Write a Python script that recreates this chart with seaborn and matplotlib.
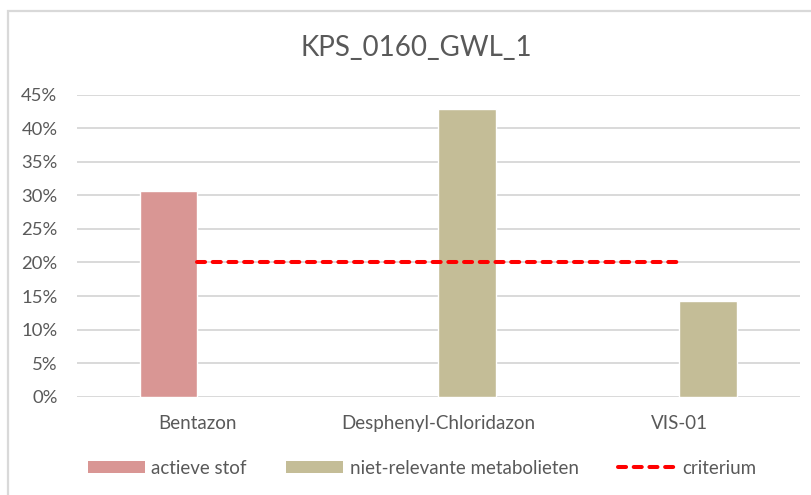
import matplotlib
matplotlib.use("Agg")
import matplotlib.pyplot as plt
from matplotlib.patches import Patch, Rectangle
from matplotlib.lines import Line2D
from matplotlib.ticker import PercentFormatter
import pandas as pd
import seaborn as sns

# Data
title = "KPS_0160_GWL_1"
categories = ["Bentazon", "Desphenyl-Chloridazon", "VIS-01"]
series_names = ["actieve stof", "niet-relevante metabolieten"]
actieve_stof = {"Bentazon": 0.306}
metabolieten = {"Desphenyl-Chloridazon": 0.429, "VIS-01": 0.143}
criterium_label = "criterium"
criterium = [0.20, 0.20, 0.20]
y_ticks = [0.00, 0.05, 0.10, 0.15, 0.20, 0.25, 0.30, 0.35, 0.40, 0.45]

rows = [(k, series_names[0], v) for k, v in actieve_stof.items()]
rows += [(k, series_names[1], v) for k, v in metabolieten.items()]
df = pd.DataFrame(rows, columns=["stof", "groep", "waarde"])

sns.set_theme(style="white")
plt.rcParams["font.family"] = ["Lato", "DejaVu Sans"]

text_color = "#595959"
grid_color = "#d9d9d9"
colors = {series_names[0]: "#d99694", series_names[1]: "#c4bd97"}
crit_color = "#ff0000"
label_size = 13.5

fig = plt.figure(figsize=(8.12, 4.95), dpi=100)
fig.patch.set_facecolor("white")
ax = fig.add_axes([77 / 812, (495 - 396.7) / 495, (800 - 77) / 812, (396.7 - 94.7) / 495])

sns.barplot(data=df, x="stof", y="waarde", hue="groep", order=categories,
            hue_order=series_names, palette=colors, width=0.477, dodge=True,
            saturation=1, legend=False, ax=ax, zorder=2)

ax.plot(range(len(categories)), criterium, color=crit_color, lw=2.9,
        dashes=(2.0, 1.9), dash_capstyle="round", zorder=3)

ax.set_xlim(-0.5, len(categories) - 0.5)
ax.set_ylim(0, 0.45)
ax.set_yticks(y_ticks)
ax.yaxis.set_major_formatter(PercentFormatter(1.0, decimals=0))
ax.set_xlabel("")
ax.set_ylabel("")
for s in ax.spines.values():
    s.set_visible(False)
ax.grid(axis="y", color=grid_color, lw=1.4)
ax.grid(axis="x", visible=False)
ax.set_axisbelow(True)
ax.tick_params(axis="y", length=0, pad=14, labelsize=13.3, labelcolor=text_color)
ax.tick_params(axis="x", length=0, pad=13.5, labelsize=label_size, labelcolor=text_color)

fig.text(416 / 812, 1 - 48 / 495, title, ha="center", va="center",
         fontsize=20, color=text_color)

handles = [
    Patch(facecolor=colors[series_names[0]], edgecolor="none"),
    Patch(facecolor=colors[series_names[1]], edgecolor="none"),
    Line2D([0], [0], color=crit_color, lw=2.9, dashes=(2.0, 1.9),
           dash_capstyle="round"),
]
leg = fig.legend(handles, series_names + [criterium_label], loc="center",
                 bbox_to_anchor=(422 / 812, 1 - 468 / 495), ncol=3,
                 frameon=False, fontsize=label_size, handlelength=3.05,
                 handleheight=0.6, handletextpad=0.35, columnspacing=2.1)
for t in leg.get_texts():
    t.set_color(text_color)

# Chart frame
fig.patches.append(Rectangle((8 / 812, -0.1), 1.2, 1 - 11 / 495 + 0.1,
                             transform=fig.transFigure, fill=False,
                             edgecolor=grid_color, lw=1.6, zorder=0))

fig.savefig("out.png", dpi=100, facecolor="white")
